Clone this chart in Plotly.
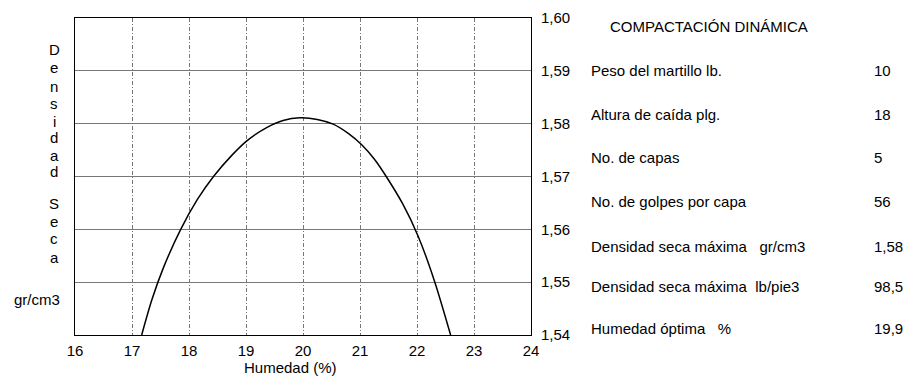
import plotly.graph_objects as go

# ---- data ----
humedad = [17.17, 17.35, 17.55, 17.85, 18.15, 18.43, 18.75, 19.02, 19.37, 19.65, 19.95,
           20.25, 20.53, 20.80, 21.03, 21.25, 21.46, 21.75, 22.02, 22.31, 22.59]
densidad = [1.5400, 1.5467, 1.5527, 1.5599, 1.5657, 1.5700, 1.5740, 1.5768, 1.5793, 1.5806, 1.5811,
            1.5808, 1.5799, 1.5781, 1.5760, 1.5733, 1.5700, 1.5648, 1.5587, 1.5501, 1.5400]

x_ticks = [16, 17, 18, 19, 20, 21, 22, 23, 24]
y_ticks = [1.54, 1.55, 1.56, 1.57, 1.58, 1.59, 1.60]

panel_title = "COMPACTACIÓN DINÁMICA"
panel_labels = ["Peso del martillo lb.", "Altura de caída plg.", "No. de capas",
                "No. de golpes por capa", "Densidad seca máxima   gr/cm3",
                "Densidad seca máxima  lb/pie3", "Humedad óptima   %"]
panel_values = ["10", "18", "5", "56", "1,58", "98,5", "19,9"]

y_title_letters = list("Densidad") + list("Seca")

# ---- layout geometry (pixels) ----
W, H = 909, 381
L, R, T, B = 75, 531, 9, 335

def xp(px):
    return (px - L) / (R - L)

def yp(py):
    return (B - py) / (B - T)

FONT = "Liberation Sans, Arial, sans-serif"

fig = go.Figure()
fig.add_trace(go.Scatter(
    x=humedad, y=densidad, mode="lines",
    line=dict(color="black", width=1.5, shape="spline", smoothing=0.8),
    showlegend=False, hoverinfo="skip",
))

annotations = []
letter_y = [41, 60, 79, 97, 115, 132, 150, 167, 200, 218, 236, 255]
for ch, py in zip(y_title_letters, letter_y):
    annotations.append(dict(text=ch, x=xp(54), y=yp(py), xref="paper", yref="paper",
                            showarrow=False, xanchor="center", yanchor="middle",
                            font=dict(size=15, color="black", family=FONT)))
annotations.append(dict(text="gr/cm3", x=xp(37), y=yp(298), xref="paper", yref="paper",
                        showarrow=False, xanchor="center", yanchor="middle",
                        font=dict(size=15, color="black", family=FONT)))
annotations.append(dict(text="Humedad (%)", x=xp(290), y=yp(368), xref="paper", yref="paper",
                        showarrow=False, xanchor="center", yanchor="middle",
                        font=dict(size=15, color="black", family=FONT)))
annotations.append(dict(text=panel_title, x=xp(608), y=yp(18), xref="paper", yref="paper",
                        showarrow=False, xanchor="left", yanchor="middle",
                        font=dict(size=15, color="black", family=FONT)))
row_y = [63, 108, 152, 198, 244, 285, 328]
for lab, val, py in zip(panel_labels, panel_values, row_y):
    annotations.append(dict(text=lab.replace("  ", "&nbsp;&nbsp;"), x=xp(589), y=yp(py),
                            xref="paper", yref="paper",
                            showarrow=False, xanchor="left", yanchor="middle",
                            font=dict(size=15, color="black", family=FONT)))
    annotations.append(dict(text=val, x=xp(872), y=yp(py), xref="paper", yref="paper",
                            showarrow=False, xanchor="left", yanchor="middle",
                            font=dict(size=15, color="black", family=FONT)))

fig.update_layout(
    width=W, height=H,
    margin=dict(l=L, r=W - R, t=T, b=H - B, pad=0),
    paper_bgcolor="white", plot_bgcolor="white",
    separators=",.",
    font=dict(family=FONT, size=15, color="black"),
    annotations=annotations,
    xaxis=dict(range=[16, 24], tickvals=x_ticks, ticks="", showgrid=True,
               gridcolor="#777777", gridwidth=1, griddash="4px,2px,1px,2px",
               showline=True, linecolor="black", linewidth=1, mirror=True,
               zeroline=False, ticklabelstandoff=2,
               tickfont=dict(size=15, color="black", family=FONT)),
    yaxis=dict(range=[1.54, 1.60], tickvals=y_ticks, tickformat=".2f", side="right",
               ticks="", showgrid=True, gridcolor="#777777", gridwidth=1,
               showline=True, linecolor="black", linewidth=1, mirror=True,
               zeroline=False, ticklabelstandoff=6,
               tickfont=dict(size=15, color="black", family=FONT)),
)

fig.write_html("out.html")
